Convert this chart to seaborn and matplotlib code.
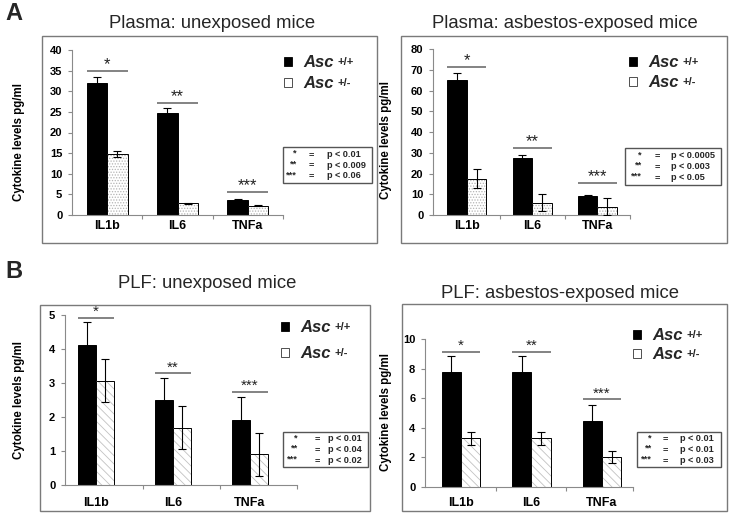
import numpy as np
import pandas as pd
import matplotlib
matplotlib.use("Agg")
import matplotlib.pyplot as plt
import seaborn as sns
from matplotlib.patches import Rectangle, Patch

# ---------------- data ----------------
cytokines = ["IL1b", "IL6", "TNFa"]
genotypes = ["Asc +/+", "Asc +/-"]
legend_sups = ["+/+", "+/-"]
stars = ["*", "**", "***"]

# Plasma: unexposed mice
pu_wt = [32.0, 24.7, 3.6]
pu_wt_err = [1.5, 1.3, 0.2]
pu_het = [14.8, 2.8, 2.3]
pu_het_err = [0.7, 0.2, 0.2]
pu_sig = [35.0, 27.2, 5.6]
pu_p = ["p < 0.01", "p < 0.009", "p < 0.06"]
pu_yticks = [0, 5, 10, 15, 20, 25, 30, 35, 40]

# Plasma: asbestos-exposed mice
pa_wt = [65.0, 27.5, 9.0]
pa_wt_err = [3.3, 1.4, 0.4]
pa_het = [17.5, 6.0, 4.0]
pa_het_err = [4.5, 4.3, 4.2]
pa_sig = [71.5, 32.4, 15.6]
pa_p = ["p < 0.0005", "p < 0.003", "p < 0.05"]
pa_yticks = [0, 10, 20, 30, 40, 50, 60, 70, 80]

# PLF: unexposed mice
fu_wt = [4.12, 2.50, 1.92]
fu_wt_err = [0.68, 0.65, 0.67]
fu_het = [3.07, 1.68, 0.90]
fu_het_err = [0.63, 0.63, 0.63]
fu_sig = [4.92, 3.29, 2.74]
fu_p = ["p < 0.01", "p < 0.04", "p < 0.02"]
fu_yticks = [0, 1, 2, 3, 4, 5]

# PLF: asbestos-exposed mice
fa_wt = [7.75, 7.75, 4.45]
fa_wt_err = [1.1, 1.1, 1.1]
fa_het = [3.30, 3.30, 2.05]
fa_het_err = [0.43, 0.43, 0.40]
fa_sig = [9.14, 9.14, 5.95]
fa_p = ["p < 0.01", "p < 0.01", "p < 0.03"]
fa_yticks = [0, 2, 4, 6, 8, 10]

titles = ["Plasma: unexposed mice", "Plasma: asbestos-exposed mice",
          "PLF: unexposed mice", "PLF: asbestos-exposed mice"]
ylabel = "Cytokine levels pg/ml"

# ---------------- style ----------------
sns.set_theme(style="white")
plt.rcParams["font.family"] = ["Liberation Sans", "DejaVu Sans"]
plt.rcParams["hatch.linewidth"] = 0.6

W, H = 730, 515
fig = plt.figure(figsize=(W / 100, H / 100), dpi=100)


def fx(px):
    return px / W


def fy(py):
    return 1 - py / H


AXC = "#8a8a8a"

panels = [
    dict(wt=pu_wt, wte=pu_wt_err, het=pu_het, hete=pu_het_err, sig=pu_sig, p=pu_p,
         yt=pu_yticks, box=(72, 283, 50, 215), xlim=(-0.5, 2.5), width=0.58,
         hatch="......", hcol="#b4b4b4", minor=[0.5, 1.5, 2.5], xpad=3.3, title=titles[0],
         tpos=(212, 23), frame=(42, 377, 36, 243), ylab=(25, 142),
         leg=(284, 55, 0.38), pbox=(283, 372, 147, 183, 297, 311, 327), starfs=12),
    dict(wt=pa_wt, wte=pa_wt_err, het=pa_het, hete=pa_het_err, sig=pa_sig, p=pa_p,
         yt=pa_yticks, box=(433, 630, 49, 215), xlim=(-0.52, 2.5), width=0.6,
         hatch="......", hcol="#b4b4b4", minor=[0.5, 1.5, 2.5], xpad=3.3, title=titles[1],
         tpos=(565, 23), frame=(401, 727, 36, 243), ylab=(392, 140),
         leg=(629, 55, 0.3), pbox=(625, 721, 148, 185, 642, 657, 671), starfs=12),
    dict(wt=fu_wt, wte=fu_wt_err, het=fu_het, hete=fu_het_err, sig=fu_sig, p=fu_p,
         yt=fu_yticks, box=(65, 297, 315, 485), xlim=(-0.4, 2.61), width=0.46,
         hatch="\\\\\\\\", hcol="#c2c2c2", minor=[0.61, 1.61, 2.61], xpad=9, title=titles[2],
         tpos=(207, 283), frame=(40, 370, 305, 511), ylab=(25, 400),
         leg=(281, 320, 0.68), pbox=(283, 368, 432, 467, 298, 317, 328), starfs=11),
    dict(wt=fa_wt, wte=fa_wt_err, het=fa_het, hete=fa_het_err, sig=fa_sig, p=fa_p,
         yt=fa_yticks, box=(425, 633, 339, 487), xlim=(-0.51, 2.44), width=0.55,
         hatch="\\\\\\\\", hcol="#c2c2c2", minor=[0.49, 1.49, 2.44], xpad=7.2, title=titles[3],
         tpos=(560, 293), frame=(402, 727, 304, 511), ylab=(392, 412),
         leg=(633, 328, 0.26), pbox=(637, 721, 432, 467, 652, 665, 680), starfs=11),
]

legends = []
for P in panels:
    l, r, t, b = P["box"]
    ax = fig.add_axes([fx(l), fy(b), (r - l) / W, (b - t) / H])
    df = pd.DataFrame({
        "Cytokine": cytokines * 2,
        "Genotype": [g for g in genotypes for _ in cytokines],
        "Level": list(P["wt"]) + list(P["het"]),
    })
    sns.barplot(data=df, x="Cytokine", y="Level", hue="Genotype",
                order=cytokines, hue_order=genotypes,
                palette=["black", "white"], saturation=1, width=P["width"],
                gap=0, errorbar=None, legend=False, ax=ax,
                edgecolor="black", linewidth=0.7)
    bars_wt = sorted(ax.containers[0].patches, key=lambda p: p.get_x())
    bars_het = sorted(ax.containers[1].patches, key=lambda p: p.get_x())
    for pch in bars_het:
        pch.set_hatch(P["hatch"])
        pch.set_edgecolor(P["hcol"])
        pch.set_linewidth(0)
        ax.add_patch(Rectangle((pch.get_x(), pch.get_y()), pch.get_width(),
                               pch.get_height(), fill=False, edgecolor="black",
                               linewidth=0.7, zorder=pch.get_zorder() + 0.1))
    cx_wt = [p.get_x() + p.get_width() / 2 for p in bars_wt]
    cx_het = [p.get_x() + p.get_width() / 2 for p in bars_het]
    ax.errorbar(cx_wt, P["wt"], yerr=P["wte"], fmt="none", ecolor="black",
                elinewidth=0.8, capsize=3, capthick=0.8, zorder=5)
    ax.errorbar(cx_het, P["het"], yerr=P["hete"], fmt="none", ecolor="black",
                elinewidth=0.8, capsize=3, capthick=0.8, zorder=5)
    # significance lines
    for i, s in enumerate(P["sig"]):
        x0 = bars_wt[i].get_x()
        x1 = bars_het[i].get_x() + bars_het[i].get_width()
        ax.plot([x0, x1], [s, s], color="#6e6e6e", lw=1.2, solid_capstyle="butt",
                clip_on=False)
        ax.annotate(stars[i], ((x0 + x1) / 2, s), xytext=(0, -1),
                    textcoords="offset points", ha="center", va="bottom",
                    fontsize=P["starfs"], color="#222222", annotation_clip=False)
    ax.set_xlim(*P["xlim"])
    ax.set_ylim(P["yt"][0], P["yt"][-1])
    ax.set_yticks(P["yt"])
    ax.set_yticklabels([str(v) for v in P["yt"]], fontweight="bold", fontsize=8)
    ax.set_xticks(range(len(cytokines)))
    ax.set_xticklabels(cytokines, fontweight="bold", fontsize=9)
    ax.set_xticks(P["minor"], minor=True)
    ax.tick_params(axis="x", which="major", length=0, pad=P["xpad"], colors="black")
    ax.tick_params(axis="x", which="minor", length=3, direction="out",
                   color=AXC, width=0.8, bottom=True)
    ax.tick_params(axis="y", length=3, direction="out", color=AXC, width=0.8,
                   pad=4, left=True, labelcolor="black")
    for sp in ["top", "right"]:
        ax.spines[sp].set_visible(False)
    for sp in ["left", "bottom"]:
        ax.spines[sp].set_color(AXC)
        ax.spines[sp].set_linewidth(0.8)
    ax.set_xlabel("")
    ax.set_ylabel(ylabel, fontweight="bold", fontsize=8.3, color="black")
    yl_x, yl_y = P["ylab"]
    ax.yaxis.set_label_coords((yl_x - l) / (r - l), (b - yl_y) / (b - t))
    ax.patch.set_alpha(0)

    # legend
    lx, ly, lsp = P["leg"]
    handles = [Patch(facecolor="black", edgecolor="black", linewidth=0.6),
               Patch(facecolor="white", edgecolor="#333333", linewidth=0.6)]
    leg = ax.legend(handles, ["Asc", "Asc"], loc="upper left",
                    bbox_to_anchor=(fx(lx), fy(ly)), bbox_transform=fig.transFigure,
                    frameon=False, prop={"weight": "bold", "style": "italic", "size": 12},
                    handlelength=0.45, handleheight=0.45, handletextpad=0.7,
                    labelspacing=lsp, borderpad=0, borderaxespad=0)
    legends.append(leg)

    # p-value box
    bl, br, bt, bb, sx, ex, px_ = P["pbox"]
    fig.patches.append(Rectangle((fx(bl), fy(bb)), (br - bl) / W, (bb - bt) / H,
                                 transform=fig.transFigure, facecolor="white",
                                 edgecolor="#555555", linewidth=1.0, zorder=3))
    yc = fy((bt + bb) / 2)
    kw = dict(fontsize=6.6, fontweight="bold", va="center", linespacing=1.25, zorder=4)
    fig.text(fx(sx), yc + 0.002, "\n".join(stars), ha="right", multialignment="right", **kw)
    fig.text(fx(ex), yc, "\n".join(["="] * 3), ha="center", multialignment="center", **kw)
    fig.text(fx(px_), yc, "\n".join(P["p"]), ha="left", multialignment="left", **kw)

    # panel frame and title
    fl, fr, ft, fb = P["frame"]
    fig.patches.append(Rectangle((fx(fl), fy(fb)), (fr - fl) / W, (fb - ft) / H,
                                 transform=fig.transFigure, fill=False,
                                 edgecolor="#7a7a7a", linewidth=1.0))
    tx, ty = P["tpos"]
    fig.text(fx(tx), fy(ty), P["title"], ha="center", va="center", fontsize=13.3)

fig.text(fx(5), fy(13), "A", fontsize=17, fontweight="bold", ha="left", va="center")
fig.text(fx(5), fy(272), "B", fontsize=17, fontweight="bold", ha="left", va="center")

# superscripts on legend labels
fig.canvas.draw()
for leg in legends:
    for t, sup in zip(leg.get_texts(), legend_sups):
        bbx = t.get_window_extent()
        fig.text((bbx.x1 + 4) / W, (bbx.y1 - 2) / H, sup, fontsize=8,
                 fontweight="bold", ha="left", va="top")

fig.savefig("out.png", dpi=100)
